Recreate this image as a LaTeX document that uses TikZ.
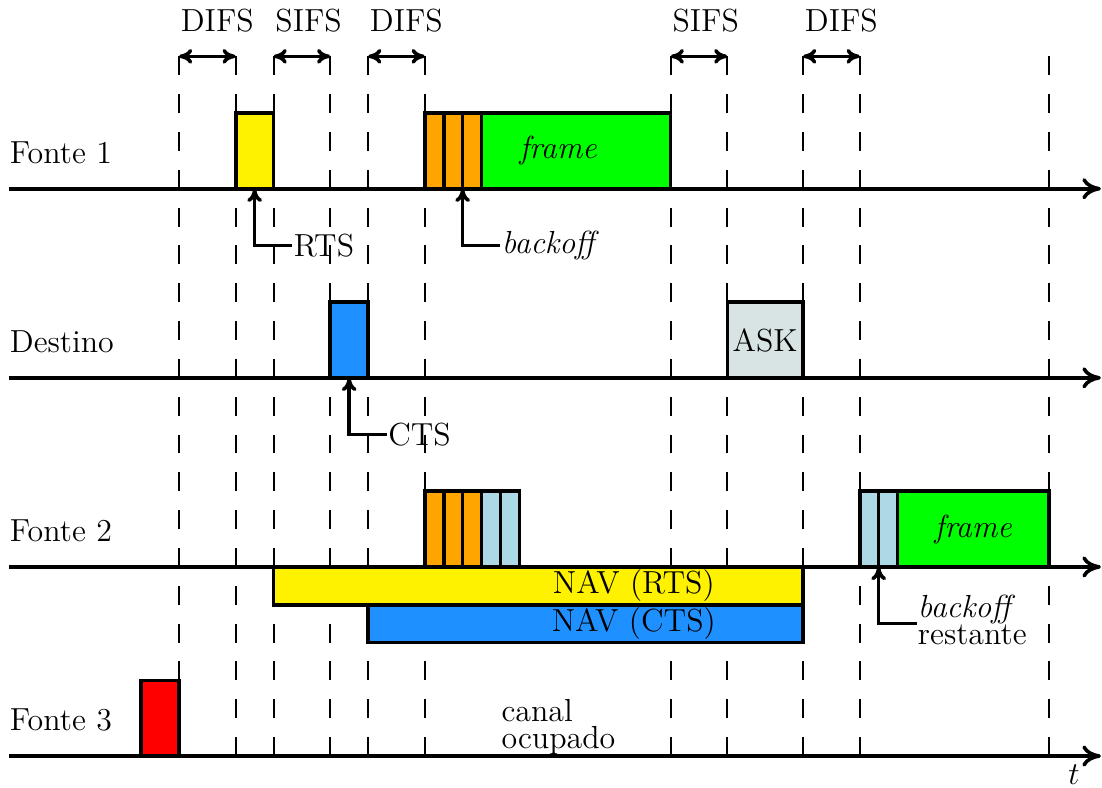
\documentclass[tikz,border=0pt]{standalone}
\usetikzlibrary{arrows.meta}
\definecolor{askgray}{RGB}{216,228,228}
\definecolor{navblue}{RGB}{30,144,255}
\definecolor{lblue}{RGB}{173,216,230}
\definecolor{orng}{RGB}{255,165,0}
\definecolor{grn}{RGB}{0,255,0}
\begin{document}
\fontsize{12}{10}\selectfont
\begin{tikzpicture}[x=0.25cm,y=0.25cm,
  thickline/.style={line width=1.35pt},
  box/.style={draw, thickline, inner sep=0pt, outer sep=0pt, anchor=south west, minimum height=1cm},
  gridline/.style={line width=0.75pt, dash pattern=on 0.25cm off 0.25cm},
  axisline/.style={thickline, -{Computer Modern Rightarrow[length=7pt,width=8pt]}},
  ptr/.style={thickline, -{Computer Modern Rightarrow[length=5pt,width=5.6pt]}},
  span/.style={thickline, {Computer Modern Rightarrow[length=5pt,width=5.6pt]}-{Computer Modern Rightarrow[length=5pt,width=5.6pt]}},
  lbl/.style={inner sep=0pt, outer sep=0pt, anchor=base west},
  txt/.style={inner sep=0.5pt, outer sep=0pt, anchor=west},
]
\fill[white] (-0.465,-1.64) rectangle (57.81,39.98);
\useasboundingbox (-0.465,-1.64) rectangle (57.81,39.98);

% dashed time marks
\foreach \x in {9,12,14,17,19,22,35,38,42,45,55}
  \draw[gridline] (\x,0) -- (\x,37);

% interval arrows and labels
\foreach \a/\b/\n/\t in {9/12/d1/DIFS,14/17/s1/SIFS,19/22/d2/DIFS,35/38/s2/SIFS,42/45/d3/DIFS}{
  \coordinate (\n a) at (\a,37);
  \coordinate (\n b) at (\b,37);
  \draw[span] (\n a) -- (\n b);
  \node[lbl] (\n l) at (\a+0.1,38.29) {\t};
}

% station labels
\node[lbl] (f1) at (0.06,31.34) {Fonte 1};
\node[lbl] (de) at (0.06,21.34) {Destino};
\node[lbl] (f2) at (0.06,11.34) {Fonte 2};
\node[lbl] (f3) at (0.06,1.34) {Fonte 3};

% Fonte 1
\node[box, fill=yellow, minimum width=0.5cm] (rts) at (12,30) {};
\node[box, fill=orng, minimum width=0.25cm] (a1) at (22,30) {};
\node[box, fill=orng, minimum width=0.25cm] (a2) at (23,30) {};
\node[box, fill=orng, minimum width=0.25cm] (a3) at (24,30) {};
\node[box, fill=grn, minimum width=2.5cm] (fr1) at (25,30) {};
\node[inner sep=0pt] (fr1t) at (29.05,32) {\itshape frame};

% Destino
\node[box, fill=navblue, minimum width=0.5cm] (cts) at (17,20) {};
\node[box, fill=askgray, minimum width=1cm] (ask) at (38,20) {ASK};

% Fonte 2
\node[box, fill=orng, minimum width=0.25cm] (b1) at (22,10) {};
\node[box, fill=orng, minimum width=0.25cm] (b2) at (23,10) {};
\node[box, fill=orng, minimum width=0.25cm] (b3) at (24,10) {};
\node[box, fill=lblue, minimum width=0.25cm] (c1) at (25,10) {};
\node[box, fill=lblue, minimum width=0.25cm] (c2) at (26,10) {};
\node[box, fill=yellow, minimum width=7cm, minimum height=0.5cm] (navr) at (14,8) {};
\node[box, fill=navblue, minimum width=5.75cm, minimum height=0.5cm] (navc) at (19,6) {};
\node[inner sep=0pt] (navrt) at (33.05,9) {NAV (RTS)};
\node[inner sep=0pt] (navct) at (33.05,7) {NAV (CTS)};
\node[box, fill=lblue, minimum width=0.25cm] (e1) at (45,10) {};
\node[box, fill=lblue, minimum width=0.25cm] (e2) at (46,10) {};
\node[box, fill=grn, minimum width=2cm] (fr2) at (47,10) {\itshape frame};

% Fonte 3
\node[box, fill=red, minimum width=0.5cm] (busy) at (7,0) {};
\node[inner sep=0pt, anchor=west, align=left] (canal) at (26.03,1.53) {canal\\ocupado};

% axes
\draw[axisline] (0,30) -- (57.75,30);
\draw[axisline] (0,20) -- (57.75,20);
\draw[axisline] (0,10) -- (57.75,10);
\draw[axisline] (0,0) -- (57.75,0);
\node[inner sep=0pt] (tl) at (56.33,-1.0) {$t$};

% pointers
\node[txt] (rtsl) at (15,27) {RTS};
\draw[ptr] (rtsl.west) -| (rts.south);
\node[txt, font=\itshape] (bol) at (26,27) {backoff};
\draw[ptr] (bol.west) -| (a2.south east);
\node[txt] (ctsl) at (20,17) {CTS};
\draw[ptr] (ctsl.west) -| (cts.south);
\coordinate (brc) at (48,7);
\node[inner sep=0pt, anchor=west, align=left] (brl) at (48.05,7.2) {\textit{backoff}\\restante};
\draw[ptr] (brc) -| (e1.south east);
\end{tikzpicture}
\end{document}
